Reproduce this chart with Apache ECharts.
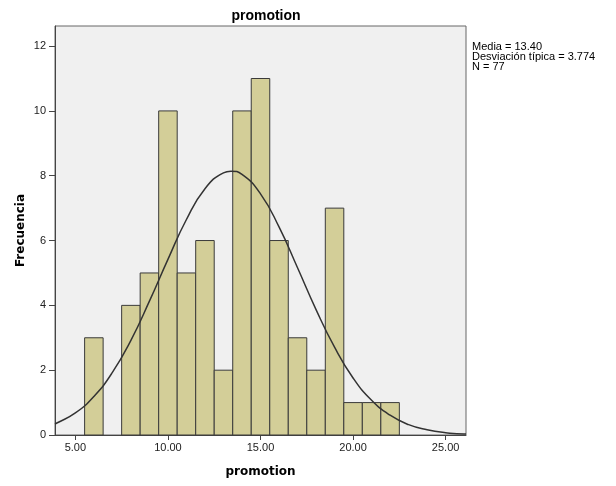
<!DOCTYPE html>
<html><head><meta charset="utf-8">
<script src="https://cdn.jsdelivr.net/npm/echarts@6/dist/echarts.min.js"></script>
<style>html,body{margin:0;padding:0;background:#fff}#c{width:616px;height:486px}</style>
</head><body><div id="c"></div>
<script>
const binCenters = [6, 7, 8, 9, 10, 11, 12, 13, 14, 15, 16, 17, 18, 19, 20, 21, 22];
const counts     = [3, 0, 4, 5, 10, 5, 6, 2, 10, 11, 6, 3, 2, 7, 1, 1, 1];
const binWidth = 1;
const curveX = [3.9, 4, 5, 6, 7, 8, 9, 10, 11, 12, 13, 13.4, 14, 15, 16, 17, 18, 19, 20, 21, 22, 23, 24, 25, 26, 26.1];
const curveY = [0.34, 0.37, 0.68, 1.19, 1.93, 2.92, 4.13, 5.42, 6.65, 7.60, 8.09, 8.14, 8.04, 7.44, 6.42, 5.16, 3.87, 2.71, 1.76, 1.07, 0.61, 0.32, 0.16, 0.07, 0.03, 0.03];
const xTicks = [5, 10, 15, 20, 25];
const yTicks = [0, 2, 4, 6, 8, 10, 12];
const stats = ['Media = 13.40', 'Desviación típica = 3.774', 'N = 77'];
const titleText = 'promotion';
const xName = 'promotion';
const yName = 'Frecuencia';

const chart = echarts.init(document.getElementById('c'));
const font = 'Arial, "Liberation Sans", sans-serif';
const nameFont = '"DejaVu Sans", Verdana, sans-serif';
chart.setOption({
  animation: false,
  title: {text: titleText, left: 261, textAlign: 'center', top: 4,
    textStyle: {fontFamily: font, fontSize: 14, fontWeight: 'bold', color: '#000'}},
  grid: {left: 55, right: 150, top: 26, bottom: 51, show: true, backgroundColor: '#f0f0f0', borderColor: '#666', borderWidth: 1},
  graphic: [{type: 'text', left: 472, top: 41,
    style: {text: stats.join('\n'), fontFamily: font, fontSize: 11, lineHeight: 10, fill: '#000'}}],
  xAxis: {type: 'value', min: 3.9, max: 26.1, interval: 5,
    name: xName, nameLocation: 'middle', nameGap: 31,
    nameTextStyle: {fontFamily: nameFont, fontSize: 12, fontWeight: 'bold', color: '#000'},
    axisLine: {onZero: false, lineStyle: {color: '#444'}},
    axisTick: {show: true, length: 5, lineStyle: {color: '#444'}, customValues: xTicks},
    axisLabel: {fontFamily: font, fontSize: 11, color: '#222', margin: 7, customValues: xTicks,
      formatter: v => v.toFixed(2)},
    splitLine: {show: false}},
  yAxis: {type: 'value', min: 0, max: 12.62, interval: 2,
    name: yName, nameLocation: 'middle', nameGap: 28, nameRotate: 90, nameMoveOverlap: false,
    nameTextStyle: {fontFamily: nameFont, fontSize: 12, fontWeight: 'bold', color: '#000'},
    axisLine: {show: true, lineStyle: {color: '#444'}},
    axisTick: {show: true, length: 6, lineStyle: {color: '#444'}, customValues: yTicks},
    axisLabel: {fontFamily: font, fontSize: 11, color: '#222', margin: 9, customValues: yTicks},
    splitLine: {show: false}},
  series: [
    {type: 'custom', data: binCenters.map((c, i) => [c, counts[i]]),
      renderItem: function (params, api) {
        const c = api.value(0), n = api.value(1);
        if (!n) return null;
        const p0 = api.coord([c - binWidth / 2, n]);
        const p1 = api.coord([c + binWidth / 2, 0]);
        return {type: 'rect', shape: {x: p0[0], y: p0[1], width: p1[0] - p0[0], height: p1[1] - p0[1]},
          style: {fill: '#d3ce98', stroke: '#3a3a3a', lineWidth: 1}};
      }, z: 2},
    {type: 'line', data: curveX.map((x, i) => [x, curveY[i]]), smooth: true, showSymbol: false,
      lineStyle: {color: '#333', width: 1.5}, z: 3}
  ]
});
</script></body></html>
